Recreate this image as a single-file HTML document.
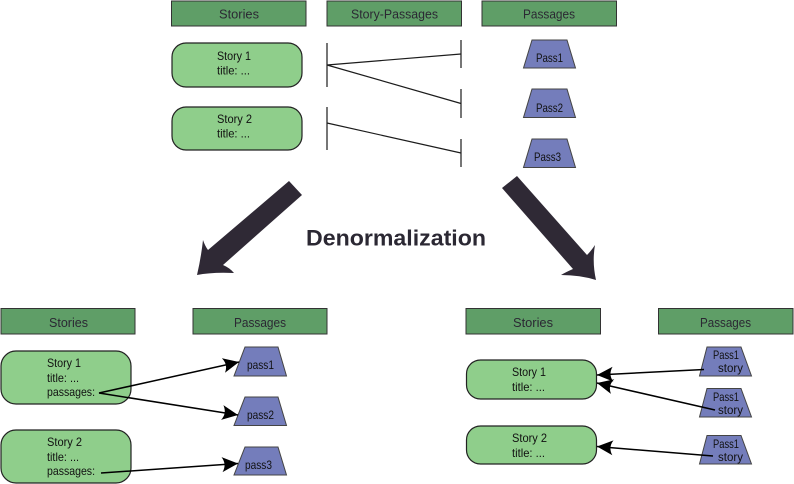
<!DOCTYPE html>
<html>
<head>
<meta charset="utf-8">
<style>
html,body{margin:0;padding:0;background:#fff;width:794px;height:484px;overflow:hidden}
svg{display:block}
text{font-family:"Liberation Sans",sans-serif;fill:#2b2833}
.h{font-size:13px}
.t{font-size:12px;fill:#111}
.hd{fill:#5f9e67;stroke:#333;stroke-width:1}
.st{fill:#8fce8b;stroke:#222;stroke-width:1.2}
.tr{fill:#747dbb;stroke:#444;stroke-width:1}
.ln{stroke:#1c1c1c;stroke-width:1.2;fill:none}
.ar{stroke:#000;stroke-width:1.5;fill:none;marker-end:url(#m)}
</style>
</head>
<body>
<svg width="794" height="484" viewBox="0 0 794 484" xmlns="http://www.w3.org/2000/svg">
<defs>
<marker id="m" markerUnits="userSpaceOnUse" markerWidth="18" markerHeight="16" refX="16" refY="7.500" orient="auto">
<path d="M16,7.500 L0,0 Q5,7.500 0,15 Z" fill="#000"/>
</marker>
</defs>

<!-- top headers -->
<rect class="hd" x="171.500" y="1" width="134.500" height="25"/>
<rect class="hd" x="327" y="1" width="134.500" height="25"/>
<rect class="hd" x="482" y="1" width="134.500" height="25"/>
<text class="h" x="219" y="18.500" textLength="40" lengthAdjust="spacingAndGlyphs">Stories</text>
<text class="h" x="351" y="18.500" textLength="87" lengthAdjust="spacingAndGlyphs">Story-Passages</text>
<text class="h" x="523" y="18.500" textLength="52" lengthAdjust="spacingAndGlyphs">Passages</text>

<!-- top stories -->
<rect class="st" x="172" y="43" width="130" height="44" rx="14" ry="14"/>
<rect class="st" x="172" y="107" width="130" height="43" rx="14" ry="14"/>
<text class="t" x="217" y="60" textLength="34" lengthAdjust="spacingAndGlyphs">Story 1</text>
<text class="t" x="217" y="74.500" textLength="33" lengthAdjust="spacingAndGlyphs">title: ...</text>
<text class="t" x="217" y="123" textLength="35" lengthAdjust="spacingAndGlyphs">Story 2</text>
<text class="t" x="217" y="137.500" textLength="33" lengthAdjust="spacingAndGlyphs">title: ...</text>

<!-- top join lines -->
<path class="ln" d="M327,43V87M327,107V150M461,40V68M461,89V118M461,139V167"/>
<path class="ln" d="M327,65L461,54M327,65L461,103.500M327,123L461,153"/>

<!-- top passages -->
<polygon class="tr" points="532,40 567,40 575.500,68 523.500,68"/>
<polygon class="tr" points="532,89 567,89 575.500,117.500 523.500,117.500"/>
<polygon class="tr" points="532,139 567,139 575.500,167.500 523.500,167.500"/>
<text class="t" x="536" y="62" textLength="27" lengthAdjust="spacingAndGlyphs">Pass1</text>
<text class="t" x="536" y="112" textLength="27" lengthAdjust="spacingAndGlyphs">Pass2</text>
<text class="t" x="534" y="161" textLength="27" lengthAdjust="spacingAndGlyphs">Pass3</text>

<!-- big arrows -->
<path fill="#2f2935" d="M289,181 L302,195 L223,265 Q230,268 234,273 Q212,272 197,275 Q201,258 203,240 Q205,246 208,250 Z"/>
<path fill="#2f2935" d="M517,176 L502,188 L573,269 Q566,272 561,275 Q580,275 596,280 Q592,262 595,245 Q591,251 587,255 Z"/>
<text x="306" y="245.500" font-size="22" font-weight="bold" textLength="180" lengthAdjust="spacingAndGlyphs">Denormalization</text>

<!-- bottom-left -->
<rect class="hd" x="1" y="308.500" width="134" height="25.500"/>
<rect class="hd" x="193" y="308.500" width="134" height="25.500"/>
<text class="h" x="49" y="327" textLength="39" lengthAdjust="spacingAndGlyphs">Stories</text>
<text class="h" x="234" y="327" textLength="52" lengthAdjust="spacingAndGlyphs">Passages</text>
<rect class="st" x="1" y="351" width="130" height="53" rx="15" ry="15"/>
<rect class="st" x="1" y="430" width="130" height="53" rx="15" ry="15"/>
<text class="t" x="47" y="367" textLength="34" lengthAdjust="spacingAndGlyphs">Story 1</text>
<text class="t" x="47" y="382" textLength="32" lengthAdjust="spacingAndGlyphs">title: ...</text>
<text class="t" x="47" y="396" textLength="48" lengthAdjust="spacingAndGlyphs">passages:</text>
<text class="t" x="47" y="446" textLength="35" lengthAdjust="spacingAndGlyphs">Story 2</text>
<text class="t" x="47" y="461" textLength="32" lengthAdjust="spacingAndGlyphs">title: ...</text>
<text class="t" x="47" y="475" textLength="48" lengthAdjust="spacingAndGlyphs">passages:</text>
<polygon class="tr" points="245,347 278,347 286.500,376 234,376"/>
<polygon class="tr" points="245,397 278,397 286.500,425.500 234,425.500"/>
<polygon class="tr" points="245,447 278,447 286.500,475 234,475"/>
<text class="t" x="247" y="369" textLength="27" lengthAdjust="spacingAndGlyphs">pass1</text>
<text class="t" x="247" y="419" textLength="27" lengthAdjust="spacingAndGlyphs">pass2</text>
<text class="t" x="245" y="469" textLength="27" lengthAdjust="spacingAndGlyphs">pass3</text>
<line class="ar" x1="99" y1="393" x2="239" y2="362"/>
<line class="ar" x1="99" y1="393" x2="238" y2="415"/>
<line class="ar" x1="101" y1="473" x2="238" y2="463.500"/>

<!-- bottom-right -->
<rect class="hd" x="466" y="308.500" width="134.500" height="25.500"/>
<rect class="hd" x="658.500" y="308.500" width="134.500" height="25.500"/>
<text class="h" x="513" y="327" textLength="40" lengthAdjust="spacingAndGlyphs">Stories</text>
<text class="h" x="700" y="327" textLength="51" lengthAdjust="spacingAndGlyphs">Passages</text>
<rect class="st" x="466.500" y="360" width="130" height="39" rx="14" ry="14"/>
<rect class="st" x="466.500" y="426" width="130" height="38" rx="14" ry="14"/>
<text class="t" x="512" y="376" textLength="34" lengthAdjust="spacingAndGlyphs">Story 1</text>
<text class="t" x="512" y="391" textLength="33" lengthAdjust="spacingAndGlyphs">title: ...</text>
<text class="t" x="512" y="442" textLength="35" lengthAdjust="spacingAndGlyphs">Story 2</text>
<text class="t" x="512" y="457" textLength="33" lengthAdjust="spacingAndGlyphs">title: ...</text>
<polygon class="tr" points="707,347 741,347 751.500,376 699.500,376"/>
<polygon class="tr" points="707,388.500 741,388.500 751.500,417 699.500,417"/>
<polygon class="tr" points="707,435.500 741,435.500 751.500,464 699.500,464"/>
<text class="t" x="713" y="359" textLength="26" lengthAdjust="spacingAndGlyphs">Pass1</text>
<text class="t" x="718" y="372" textLength="25" lengthAdjust="spacingAndGlyphs">story</text>
<text class="t" x="713" y="401" textLength="26" lengthAdjust="spacingAndGlyphs">Pass1</text>
<text class="t" x="718" y="414" textLength="25" lengthAdjust="spacingAndGlyphs">story</text>
<text class="t" x="713" y="448" textLength="26" lengthAdjust="spacingAndGlyphs">Pass1</text>
<text class="t" x="718" y="461" textLength="25" lengthAdjust="spacingAndGlyphs">story</text>
<line class="ar" x1="704" y1="369.500" x2="597" y2="375"/>
<line class="ar" x1="715" y1="410" x2="597" y2="383"/>
<line class="ar" x1="713" y1="456" x2="597" y2="446.500"/>
</svg>
</body>
</html>
